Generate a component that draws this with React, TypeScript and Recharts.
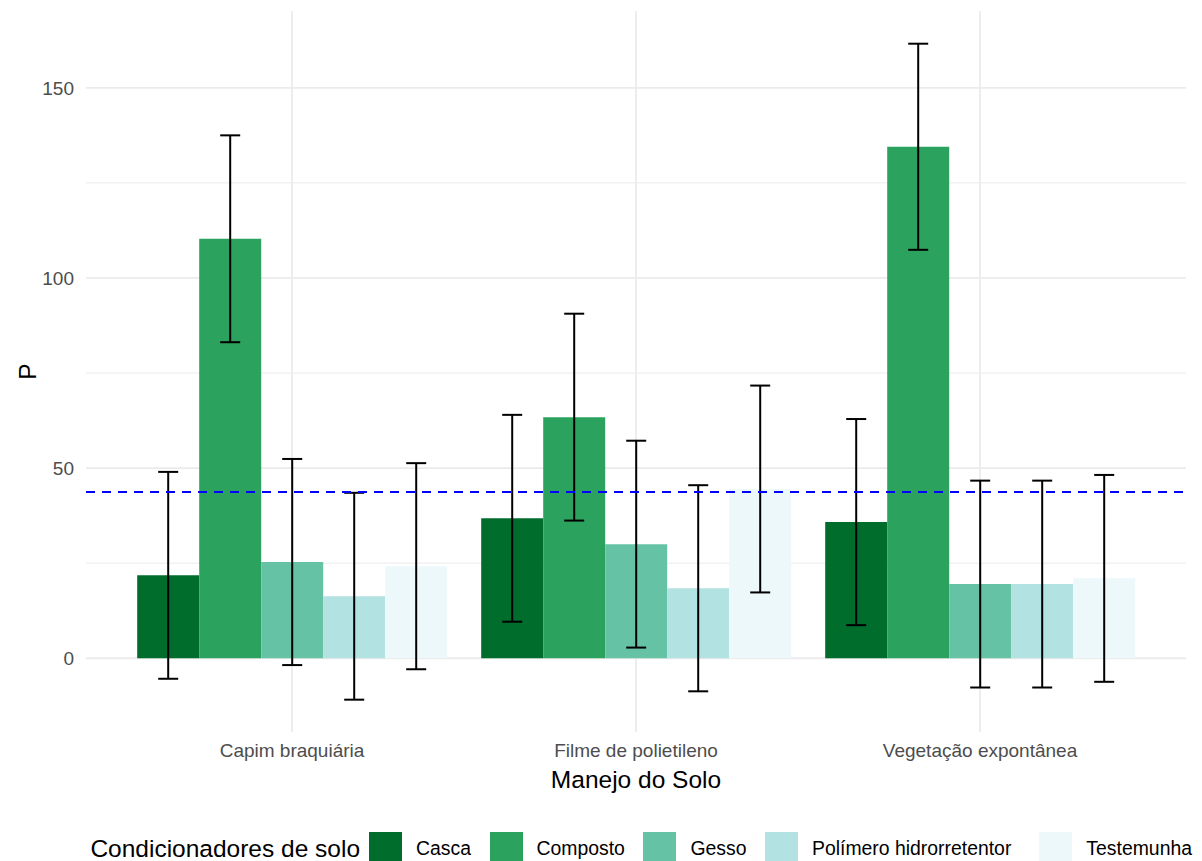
import { BarChart, Bar, XAxis, YAxis, CartesianGrid, ReferenceLine, ErrorBar } from 'recharts'

const categories = ['Capim braquiária', 'Filme de polietileno', 'Vegetação expontânea']
const seriesNames = ['Casca', 'Composto', 'Gesso', 'Polímero hidrorretentor', 'Testemunha']
const casca = [21.8, 36.8, 35.8]
const composto = [110.3, 63.4, 134.5]
const gesso = [25.3, 30.0, 19.5]
const polimero = [16.3, 18.4, 19.5]
const testemunha = [24.2, 44.5, 21.0]
// half-width of each error bar (mean ± erro)
const cascaErr = [27.2, 27.2, 27.1]
const compostoErr = [27.2, 27.2, 27.1]
const gessoErr = [27.1, 27.2, 27.2]
const polimeroErr = [27.2, 27.1, 27.2]
const testemunhaErr = [27.1, 27.2, 27.2]
const yTicks = [0, 50, 100, 150]
const yMinorTicks = [25, 75, 125]
const meanLine = 43.7

const COLORS = ['#006D2C', '#2CA25F', '#66C2A4', '#B2E2E2', '#EDF8FB']
const FONT = '"Liberation Sans", Arial, sans-serif'

const values = [casca, composto, gesso, polimero, testemunha]
const errors = [cascaErr, compostoErr, gessoErr, polimeroErr, testemunhaErr]

const data = categories.map((name, i) => {
  const row: Record<string, string | number> = { name }
  seriesNames.forEach((s, k) => {
    row[s] = values[k][i]
    row[s + '_err'] = errors[k][i]
  })
  return row
})

function YLabel(props: any) {
  const vb = props.viewBox || {}
  const x = 27
  const y = vb.y + vb.height / 2
  return (
    <text x={x} y={y} transform={`rotate(-90 ${x} ${y})`} textAnchor="middle" dominantBaseline="central"
      fontSize={24.5} fill="#000" fontFamily={FONT}>P</text>
  )
}

export default function App() {
  return (
    <div style={{ position: 'absolute', left: 0, top: 0, width: 1202, height: 861, background: '#fff', fontFamily: FONT, overflow: 'hidden' }}>
      <BarChart width={1202} height={800} data={data} margin={{ top: 11, right: 16, left: 0, bottom: 0 }}
        barCategoryGap="5%" barGap={0}>
        <CartesianGrid horizontalValues={yMinorTicks} vertical={false} stroke="#EBEBEB" strokeWidth={1} />
        <CartesianGrid horizontalValues={yTicks} verticalValues={categories} stroke="#EBEBEB" strokeWidth={1.8} />
        <XAxis dataKey="name" axisLine={false} tickLine={false} padding={{ left: 34, right: 34 }} height={68}
          tickMargin={6} tick={{ fill: '#4D4D4D', fontSize: 19, fontFamily: FONT }}
          label={{ value: 'Manejo do Solo', position: 'insideBottom', offset: 12, fill: '#000', fontSize: 24.5, fontFamily: FONT }} />
        <YAxis type="number" domain={[-19.4, 170.2]} ticks={yTicks} allowDataOverflow width={86}
          axisLine={false} tickLine={false} tickMargin={6}
          tick={{ fill: '#4D4D4D', fontSize: 19, fontFamily: FONT }}
          label={<YLabel />} />
        {seriesNames.map((s, k) => (
          <Bar key={s} dataKey={s} fill={COLORS[k]} isAnimationActive={false}>
            <ErrorBar dataKey={s + '_err'} width={10} stroke="#000" strokeWidth={2} isAnimationActive={false} />
          </Bar>
        ))}
        <ReferenceLine y={meanLine} stroke="#0000FF" strokeWidth={2} strokeDasharray="9 7" />
      </BarChart>
      <div style={{ position: 'absolute', top: 832, right: 10, display: 'flex', alignItems: 'center', height: 33, whiteSpace: 'nowrap' }}>
        <span style={{ fontSize: 24.5, color: '#000', marginRight: 9 }}>Condicionadores de solo</span>
        {seriesNames.map((s, k) => (
          <span key={s} style={{ display: 'flex', alignItems: 'center', marginRight: k === 3 ? 28 : k < 4 ? 18.5 : 0 }}>
            <span style={{ width: 33, height: 33, background: COLORS[k], marginRight: 14, display: 'inline-block' }} />
            <span style={{ fontSize: 19.4, color: '#000' }}>{s}</span>
          </span>
        ))}
      </div>
    </div>
  )
}
